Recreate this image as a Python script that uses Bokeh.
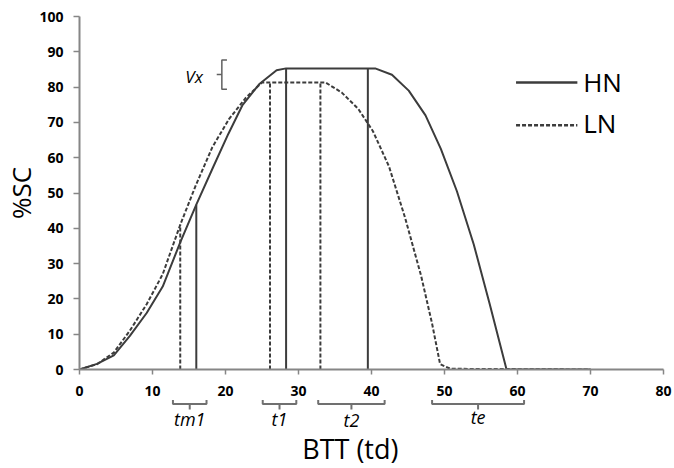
from bokeh.plotting import figure
from bokeh.layouts import column
from bokeh.models import Range1d, FixedTicker
from bokeh.core.properties import value
from bokeh.embed import file_html
from bokeh.resources import INLINE

# ---- data ----
hn_x = [0, 2.4, 4.7, 6.9, 9.2, 11.4, 13.8, 16.0, 18.3, 20.4, 22.3, 24.6, 27.0, 28.3, 39.5, 40.5, 42.8, 45.1, 47.4, 49.5, 51.7, 54.0, 56.2, 58.5, 70]
hn_y = [0, 1.6, 4.0, 9.5, 16.0, 23.5, 36.0, 46.7, 57.3, 66.8, 74.8, 80.8, 84.8, 85.3, 85.3, 85.3, 83.5, 79.0, 72.0, 62.5, 50.5, 35.5, 18.5, 0, 0]
ln_x = [0, 2.4, 4.7, 6.9, 9.2, 11.4, 13.8, 15.9, 18.2, 20.5, 22.8, 25.0, 33.7, 35.9, 38.2, 40.2, 42.4, 44.6, 46.8, 48.3, 49.4, 50.8, 70]
ln_y = [0, 1.5, 4.8, 11.0, 18.5, 27.0, 41.0, 52.0, 63.0, 71.0, 77.0, 81.3, 81.3, 78.5, 73.8, 67.5, 57.5, 43.0, 26.5, 13.0, 1.5, 0.2, 0]

hn_marks_x = [16.0, 28.3, 39.5]
hn_marks_y = [46.7, 85.3, 85.3]
ln_marks_x = [13.8, 26.1, 33.0]
ln_marks_y = [41.0, 81.3, 81.3]

x_ticks = [0, 10, 20, 30, 40, 50, 60, 70, 80]
y_ticks = [0, 10, 20, 30, 40, 50, 60, 70, 80, 90, 100]

phase_names = ["tm1", "t1", "t2", "te"]
phase_start = [12.8, 25.1, 32.7, 48.3]
phase_end = [17.4, 29.7, 41.8, 60.9]

vx_low, vx_high = 79.4, 87.7

series_names = ["HN", "LN"]

# ---- style ----
LINE = "#3c3c3c"
AXIS = "#868686"
FONT = "Open Sans"
W = 674
LEFT, RIGHT = 79, 11

p = figure(width=W, height=399, x_range=Range1d(0, 80), y_range=Range1d(0, 100),
           output_backend="svg", toolbar_location=None,
           min_border_left=LEFT, min_border_right=RIGHT, min_border_top=16, min_border_bottom=30)
p.outline_line_color = None
p.grid.visible = False
p.background_fill_color = "white"

for ax in (p.xaxis[0], p.yaxis[0]):
    ax.axis_line_color = AXIS
    ax.axis_line_width = 2
    ax.major_tick_line_color = AXIS
    ax.major_tick_line_width = 1.5
    ax.minor_tick_line_color = None
    ax.major_tick_in = 0
    ax.major_label_text_font = FONT
    ax.major_label_text_font_style = "bold"
    ax.major_label_text_font_size = "14px"
    ax.major_label_text_color = "black"

p.xaxis.ticker = FixedTicker(ticks=x_ticks)
p.yaxis.ticker = FixedTicker(ticks=y_ticks)
p.xaxis.major_tick_out = 5
p.yaxis.major_tick_out = 6
p.xaxis.major_label_standoff = 11
p.yaxis.major_label_standoff = 10
p.yaxis.axis_label = "%SC"
p.yaxis.axis_label_text_font = FONT
p.yaxis.axis_label_text_font_size = "26px"
p.yaxis.axis_label_text_font_style = "normal"
p.yaxis.axis_label_text_color = "black"
p.yaxis.axis_label_standoff = -3

# curves
p.line(hn_x, hn_y, line_color=LINE, line_width=2)
p.line(ln_x, ln_y, line_color=LINE, line_width=2, line_dash="4 2")

# vertical marks
p.segment(x0=hn_marks_x, y0=[0] * 3, x1=hn_marks_x, y1=hn_marks_y, line_color=LINE, line_width=2)
p.segment(x0=ln_marks_x, y0=[0] * 3, x1=ln_marks_x, y1=ln_marks_y, line_color=LINE, line_width=2, line_dash="4 2")

# Vx bracket
vx_x = 19.5
vx_mid = (vx_low + vx_high) / 2
p.multi_line(xs=[[vx_x + 0.7, vx_x, vx_x, vx_x + 0.7], [vx_x - 0.7, vx_x]],
             ys=[[vx_high, vx_high, vx_low, vx_low], [vx_mid, vx_mid]],
             line_color="#606060", line_width=1.5)
p.text(x=[vx_x - 2.6], y=[vx_mid - 0.5], text=["Vx"], text_font=value(FONT), text_font_style="italic",
       text_font_size="17px", text_align="right", text_baseline="middle", text_color="black")

# legend (manual)
leg_x0, leg_x1 = 59.8, 68.2
leg_y = [81.3, 69.2]
p.line([leg_x0, leg_x1], [leg_y[0]] * 2, line_color=LINE, line_width=2.5)
p.line([leg_x0, leg_x1], [leg_y[1]] * 2, line_color=LINE, line_width=2.5, line_dash="4 2")
p.text(x=[69.0, 69.0], y=[leg_y[0] + 0.2, leg_y[1] + 0.6], text=series_names, text_font=value(FONT),
       text_font_size="26px", text_align="left", text_baseline="middle", text_color="black")

# lower panel: phase brackets and x title (y in page pixels, downward)
q = figure(width=W, height=69, x_range=p.x_range, y_range=Range1d(468, 399),
           output_backend="svg", toolbar_location=None, x_axis_type=None, y_axis_type=None,
           min_border_left=LEFT, min_border_right=RIGHT, min_border_top=0, min_border_bottom=0)
q.outline_line_color = None
q.grid.visible = False

top, mid, bot = 399.5, 403.5, 409
xs, ys = [], []
for a, b in zip(phase_start, phase_end):
    c = (a + b) / 2
    xs.append([a, a, b, b]); ys.append([top, mid, mid, top])
    xs.append([c, c]); ys.append([mid, bot])
q.multi_line(xs=xs, ys=ys, line_color="#707070", line_width=2)

centers = [(a + b) / 2 for a, b in zip(phase_start, phase_end)]
q.text(x=centers, y=[418.5, 418.5, 419.5, 416], text=phase_names, text_font=value(FONT),
       text_font_style="italic", text_font_size="18px", text_align="center",
       text_baseline="middle", text_color="black")
q.text(x=[37.1], y=[448.4], text=["BTT (td)"], text_font=value(FONT), text_font_size="27px",
       text_align="center", text_baseline="middle", text_color="black")

layout = column(p, q, spacing=0)
open("out.html", "w").write(file_html(layout, INLINE))
